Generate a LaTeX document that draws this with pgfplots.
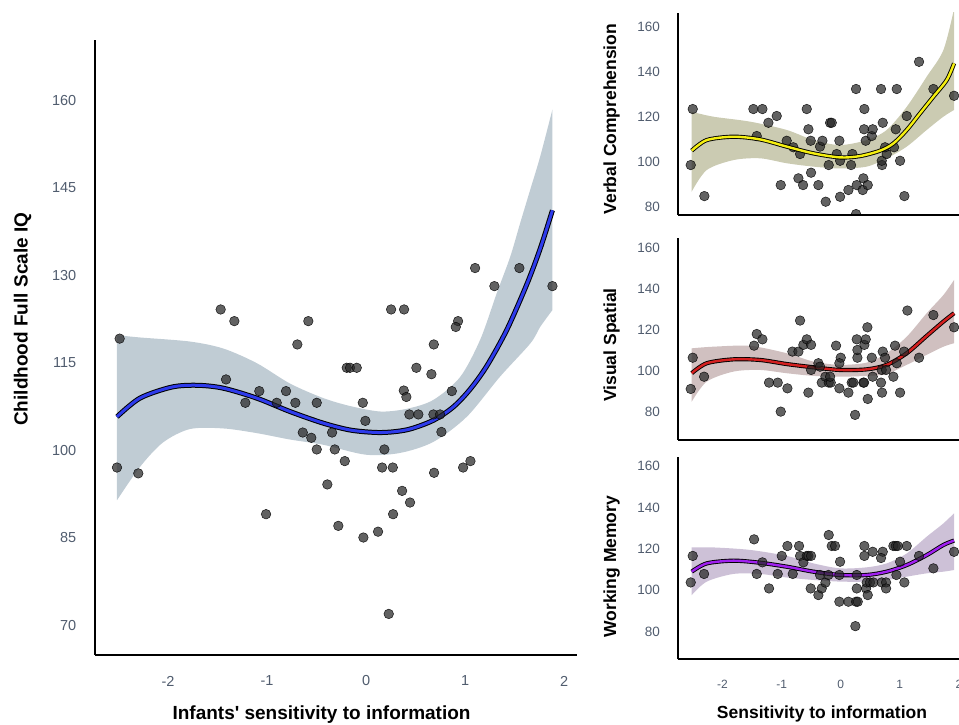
\documentclass[border=0pt]{standalone}
\usepackage{fontspec}
\setmainfont{Liberation Sans}
\usepackage{pgfplots}
\pgfplotsset{compat=1.18}
\usepgfplotslibrary{fillbetween}

\definecolor{tickc}{RGB}{80,92,110}
\definecolor{bandmain}{RGB}{122,146,164}
\definecolor{bandvc}{RGB}{139,139,84}
\definecolor{bandvs}{RGB}{150,115,115}
\definecolor{bandwm}{RGB}{144,117,166}
\definecolor{fitblue}{RGB}{46,59,235}
\definecolor{fityellow}{RGB}{245,239,16}
\definecolor{fitred}{RGB}{212,32,32}
\definecolor{fitpurple}{RGB}{160,32,240}

\pgfplotsset{
  panel/.style={
    scale only axis, axis lines=left,
    axis line style={-, line width=2pt, black},
    major tick length=0pt, axis on top,
    tick label style={text=tickc},
    /pgf/number format/assume math mode=true,
    yticklabel style={anchor=east, inner sep=0pt},
    xticklabel style={anchor=center, inner sep=0pt},
  },
  pts/.style={only marks, mark=*, mark size=4.8pt,
    mark options={fill=black!85, fill opacity=0.72, draw=black,
      draw opacity=0.85, line width=0.5pt}},
  edge/.style={draw=none, smooth, forget plot},
  fitout/.style={smooth, black, line width=#1},
}

% main panel: points, band edges, fitted line
\pgfplotstableread{
x y
-1.468 124.1
-1.330 122.1
-0.583 122.1
-2.488 119.1
-0.694 118.1
-1.414 112.1
-1.078 110.1
-0.808 110.1
-1.219 108.1
-0.902 108.1
-0.714 108.1
-0.498 108.1
-0.639 103.0
-0.553 102.1
-0.343 103.0
-0.498 100.1
-0.316 100.1
-2.515 97.0
-2.300 96.0
-0.391 94.1
-1.010 89.0
-0.280 87.0
1.101 131.2
1.548 131.2
1.296 128.1
1.882 128.1
0.253 124.1
0.384 124.1
0.929 122.1
0.906 121.1
0.684 118.1
-0.195 114.1
-0.162 114.1
-0.094 114.1
0.508 114.1
0.660 113.0
0.381 110.2
0.407 109.1
0.866 110.1
-0.033 108.1
-0.007 105.0
0.437 106.1
0.528 106.1
0.680 106.1
0.747 106.1
0.761 103.1
0.185 100.1
-0.215 98.1
0.162 97.0
0.270 97.0
0.687 96.1
0.980 97.0
1.054 98.1
0.364 93.0
0.444 91.0
0.273 89.0
-0.027 85.0
0.121 86.0
0.229 71.9
}\mainpts

\pgfplotstableread{
x y
-2.515 105.7
-2.283 108.9
-1.960 110.8
-1.700 111.1
-1.441 110.6
-1.104 108.9
-0.768 106.6
-0.431 104.6
-0.150 103.4
0.150 103.0
0.420 103.5
0.680 105.1
0.882 107.4
1.050 110.4
1.219 114.4
1.421 120.6
1.623 128.4
1.760 134.6
1.882 141.1
}\mainfit

\pgfplotstableread{
x y
-2.515 119.7
-2.283 119.3
-1.778 118.6
-1.441 117.4
-1.104 114.9
-0.768 111.4
-0.431 108.9
-0.150 107.5
0.150 106.6
0.420 107.1
0.680 108.6
0.949 112.5
1.152 118.9
1.320 126.9
1.455 133.1
1.556 138.9
1.657 144.6
1.758 150.3
1.882 158.4
}\mainup

\pgfplotstableread{
x y
-2.515 91.4
-2.283 97.1
-2.050 101.3
-1.778 103.6
-1.441 103.7
-1.104 102.9
-0.768 101.8
-0.431 100.9
-0.003 99.2
0.343 99.5
0.680 101.4
1.017 105.7
1.354 112.6
1.660 118.3
1.758 121.1
1.882 124.0
}\mainlo

% verbal comprehension
\pgfplotstableread{
x y
-2.504 123.4
-2.538 98.5
-2.307 84.7
-1.478 123.4
-1.325 123.4
-1.421 111.4
-1.224 117.3
-1.083 120.3
-1.015 89.6
-0.914 109.3
-0.801 106.4
-0.688 103.4
-0.716 92.6
-0.637 89.6
-0.575 123.4
-0.547 114.4
-0.502 95.1
-0.508 109.3
-0.378 89.6
-0.350 106.7
-0.310 109.3
-0.254 82.2
-0.203 98.5
-0.180 117.3
-0.152 117.3
-0.068 103.4
-0.023 109.3
-0.011 84.4
-0.011 100.4
0.130 87.4
0.175 98.5
0.197 103.4
0.259 132.3
0.259 76.7
0.271 89.6
0.372 87.4
0.383 92.6
0.457 89.6
0.400 123.4
0.395 114.4
0.423 109.3
0.525 111.4
0.541 114.4
0.682 132.3
0.711 117.3
0.699 98.5
0.694 100.4
0.778 103.4
0.750 106.4
0.902 106.4
0.931 114.4
0.948 132.3
1.004 100.4
1.077 84.7
1.117 120.3
1.325 144.4
1.568 132.3
1.918 129.3
}\vcpts

\pgfplotstableread{
x y
-2.521 104.9
-2.267 109.6
-1.816 111.1
-1.365 109.9
-0.914 106.7
-0.462 103.7
-0.011 101.9
0.327 102.5
0.666 104.9
0.891 108.1
1.117 114.1
1.342 121.5
1.568 128.9
1.794 136.3
1.918 143.7
}\vcfit

\pgfplotstableread{
x y
-2.521 122.2
-2.155 120.0
-1.534 117.8
-0.914 114.1
-0.462 109.6
-0.011 107.4
0.440 109.6
0.778 114.1
1.117 124.4
1.455 137.8
1.737 149.6
1.918 168.0
}\vcup

\pgfplotstableread{
x y
-2.521 86.7
-2.267 96.3
-1.816 100.7
-1.365 101.5
-0.914 99.3
-0.462 97.8
-0.011 97.0
0.440 97.8
0.778 101.5
1.117 106.7
1.455 114.1
1.737 120.0
1.918 123.0
}\vclo

% visual spatial
\pgfplotstableread{
x y
-2.504 106.4
-2.538 91.1
-2.312 97.1
-1.466 112.3
-1.421 118.0
-1.325 115.4
-1.213 94.2
-1.066 94.2
-1.015 80.0
-0.902 91.4
-0.818 109.4
-0.716 109.4
-0.688 124.6
-0.632 112.7
-0.575 115.4
-0.502 112.7
-0.547 89.3
-0.502 100.4
-0.378 103.7
-0.350 102.0
-0.321 94.2
-0.259 97.1
-0.203 94.2
-0.169 94.2
-0.180 97.1
-0.079 112.3
-0.023 91.4
0.000 106.4
-0.023 103.7
0.130 89.3
0.186 94.2
0.214 94.2
0.243 78.4
0.271 115.4
0.282 106.4
0.282 110.2
0.383 94.2
0.395 94.2
0.400 112.7
0.423 115.4
0.451 121.3
0.457 86.2
0.541 97.1
0.525 106.4
0.682 94.2
0.699 89.3
0.694 100.4
0.711 109.4
0.750 106.4
0.767 100.4
0.891 97.1
0.919 112.3
0.948 103.7
1.004 89.3
1.072 109.4
1.128 129.5
1.325 106.4
1.568 127.3
1.918 121.3
}\vspts

\pgfplotstableread{
x y
-2.521 98.8
-2.267 103.7
-1.816 105.6
-1.365 105.3
-0.914 103.3
-0.462 101.7
-0.011 100.4
0.440 100.7
0.778 102.9
1.117 108.6
1.455 117.1
1.737 124.1
1.918 128.2
}\vsfit

\pgfplotstableread{
x y
-2.521 111.0
-2.155 111.8
-1.534 112.2
-0.914 108.6
-0.462 104.5
-0.011 102.9
0.440 104.0
0.778 108.6
1.117 116.7
1.455 128.2
1.737 137.1
1.918 144.5
}\vsup

\pgfplotstableread{
x y
-2.521 84.9
-2.267 94.7
-1.816 99.6
-1.365 100.4
-0.914 98.8
-0.462 97.5
-0.011 97.1
0.440 97.5
0.778 98.4
1.117 102.9
1.455 107.8
1.737 111.8
1.918 113.5
}\vslo

% working memory
\pgfplotstableread{
x y
-2.504 116.6
-2.538 103.8
-2.312 107.9
-1.466 124.6
-1.421 107.9
-1.325 113.5
-1.213 100.9
-1.066 107.9
-0.998 116.6
-0.902 121.4
-0.812 107.9
-0.705 121.4
-0.688 116.6
-0.632 113.5
-0.575 116.6
-0.547 116.6
-0.502 116.6
-0.508 100.9
-0.378 97.7
-0.350 107.4
-0.321 100.9
-0.259 103.7
-0.203 126.7
-0.152 121.4
-0.096 121.4
-0.209 107.4
-0.023 94.5
-0.011 113.8
-0.023 107.4
0.130 94.5
0.259 94.5
0.288 94.5
0.248 82.7
0.271 107.4
0.271 100.9
0.400 121.4
0.400 116.6
0.428 100.9
0.457 97.7
0.440 103.8
0.496 103.8
0.541 118.6
0.552 103.8
0.711 118.6
0.682 115.6
0.694 103.8
0.767 103.8
0.767 100.9
0.891 121.4
0.931 121.4
0.965 121.4
0.942 107.4
1.004 113.8
1.077 103.8
1.117 121.4
1.325 116.6
1.568 110.6
1.918 118.6
}\wmpts

\pgfplotstableread{
x y
-2.521 109.0
-2.267 113.0
-1.816 114.3
-1.365 113.3
-0.914 111.4
-0.462 109.0
-0.011 107.4
0.440 107.4
0.778 109.0
1.117 112.2
1.455 117.0
1.737 121.9
1.918 124.0
}\wmfit

\pgfplotstableread{
x y
-2.521 120.7
-2.155 120.7
-1.534 119.5
-0.914 116.6
-0.462 113.0
-0.011 110.6
0.440 111.1
0.778 113.0
1.117 117.8
1.455 125.9
1.737 132.3
1.918 137.2
}\wmup

\pgfplotstableread{
x y
-2.521 97.7
-2.267 104.2
-1.816 107.9
-1.365 107.9
-0.914 106.2
-0.462 105.0
-0.011 104.2
0.440 104.2
0.778 105.0
1.117 106.6
1.455 108.2
1.737 109.0
1.918 109.8
}\wmlo

\begin{document}
\begin{tikzpicture}

% ---- main panel ----
\begin{axis}[panel,
  at={(95pt,70pt)}, anchor=south west,
  width=482pt, height=615pt,
  xmin=-2.737, xmax=2.13, ymin=64.86, ymax=170.3,
  xtick={-2,-1,0,1,2}, ytick={70,85,100,115,130,145,160},
  tick label style={font=\fontsize{14.5}{16}\selectfont},
  yticklabel style={xshift=-18.5pt},
  xticklabel style={yshift=-26pt},
  xlabel={Infants\textquotesingle{} sensitivity to information},
  ylabel={Childhood Full Scale IQ},
  xlabel style={at={(axis description cs:0.47,-0.0976)}, anchor=center,
    font=\bfseries\fontsize{19}{22}\selectfont},
  ylabel style={at={(axis description cs:-0.1504,0.546)}, anchor=center,
    font=\bfseries\fontsize{19}{22}\selectfont},
]
\addplot[pts] table {\mainpts};
\addplot[edge, name path=mu] table {\mainup};
\addplot[edge, name path=ml] table {\mainlo};
\addplot[fill=bandmain, fill opacity=0.47, draw=none] fill between[of=mu and ml];
\addplot[fitout=5pt] table {\mainfit};
\addplot[smooth, fitblue, line width=3pt] table {\mainfit};
\end{axis}

% ---- verbal comprehension ----
\begin{axis}[panel,
  at={(678.2pt,510pt)}, anchor=south west,
  width=288.4pt, height=202pt,
  xmin=-2.75, xmax=2.13, ymin=76.3, ymax=166.1,
  xtick=\empty, ytick={80,100,120,140,160},
  clip marker paths=true,
  tick label style={font=\fontsize{13.5}{15}\selectfont},
  yticklabel style={xshift=-18pt},
  ylabel={Verbal Comprehension},
  ylabel style={at={(axis description cs:-0.2306,0.475)}, anchor=center,
    font=\bfseries\fontsize{17.5}{20}\selectfont},
]
\addplot[pts] table {\vcpts};
\addplot[edge, name path=vu] table {\vcup};
\addplot[edge, name path=vl] table {\vclo};
\addplot[fill=bandvc, fill opacity=0.45, draw=none] fill between[of=vu and vl];
\addplot[fitout=4.2pt] table {\vcfit};
\addplot[smooth, fityellow, line width=2.4pt] table {\vcfit};
\end{axis}

% ---- visual spatial ----
\begin{axis}[panel,
  at={(678.2pt,285pt)}, anchor=south west,
  width=288.4pt, height=201.7pt,
  xmin=-2.75, xmax=2.13, ymin=66.1, ymax=164.9,
  xtick=\empty, ytick={80,100,120,140,160},
  tick label style={font=\fontsize{13.5}{15}\selectfont},
  yticklabel style={xshift=-18pt},
  ylabel={Visual Spatial},
  ylabel style={at={(axis description cs:-0.2306,0.471)}, anchor=center,
    font=\bfseries\fontsize{17.5}{20}\selectfont},
]
\addplot[pts] table {\vspts};
\addplot[edge, name path=su] table {\vsup};
\addplot[edge, name path=sl] table {\vslo};
\addplot[fill=bandvs, fill opacity=0.45, draw=none] fill between[of=su and sl];
\addplot[fitout=4.2pt] table {\vsfit};
\addplot[smooth, fitred, line width=2.4pt] table {\vsfit};
\end{axis}

% ---- working memory ----
\begin{axis}[panel,
  at={(678.2pt,65.7pt)}, anchor=south west,
  width=288.4pt, height=202.6pt,
  xmin=-2.75, xmax=2.13, ymin=66.7, ymax=164.5,
  xtick={-2,-1,0,1,2}, ytick={80,100,120,140,160},
  tick label style={font=\fontsize{13.5}{15}\selectfont},
  xticklabel style={yshift=-24.7pt, font=\fontsize{12}{14}\selectfont},
  yticklabel style={xshift=-18pt},
  xlabel={Sensitivity to information},
  ylabel={Working Memory},
  xlabel style={at={(axis description cs:0.4986,-0.27)}, anchor=center,
    font=\bfseries\fontsize{17.5}{20}\selectfont},
  ylabel style={at={(axis description cs:-0.2306,0.457)}, anchor=center,
    font=\bfseries\fontsize{17.5}{20}\selectfont},
]
\addplot[pts] table {\wmpts};
\addplot[edge, name path=wu] table {\wmup};
\addplot[edge, name path=wl] table {\wmlo};
\addplot[fill=bandwm, fill opacity=0.45, draw=none] fill between[of=wu and wl];
\addplot[fitout=4.2pt] table {\wmfit};
\addplot[smooth, fitpurple, line width=2.4pt] table {\wmfit};
\end{axis}

% page = the reference frame, which cuts the right panels at the edge
\pgfresetboundingbox
\useasboundingbox (0pt,0pt) rectangle (959pt,725pt);
\end{tikzpicture}
\end{document}
